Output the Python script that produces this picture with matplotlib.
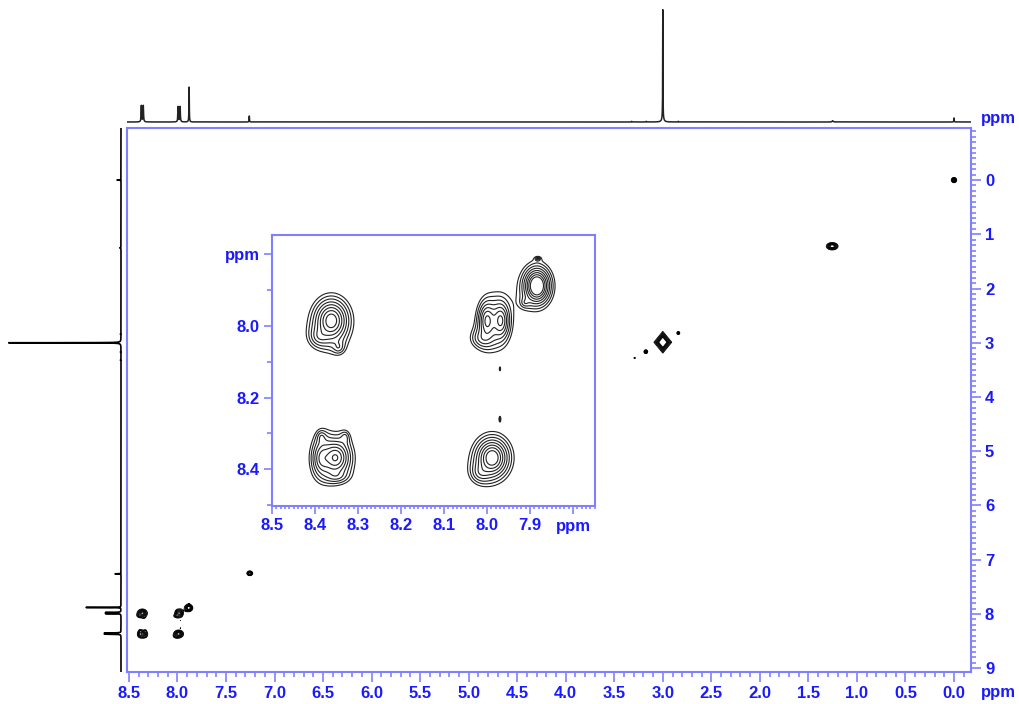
import numpy as np
import matplotlib.pyplot as plt
from matplotlib.ticker import MultipleLocator, FuncFormatter

plt.rcParams['font.family'] = ['Liberation Sans', 'DejaVu Sans']
plt.rcParams['font.weight'] = 'bold'

# 1D projection peaks (ppm, relative height, half width)
peak_ppm = [8.372, 8.352, 7.993, 7.973, 7.880, 7.260, 3.320, 3.170, 3.000, 3.000, 2.840, 1.250, 0.000]
peak_height = [0.150, 0.150, 0.140, 0.140, 0.320, 0.055, 0.006, 0.006, 1.000, 0.030, 0.006, 0.012, 0.037]
peak_width = [0.003, 0.003, 0.003, 0.003, 0.002, 0.002, 0.003, 0.003, 0.0015, 0.012, 0.003, 0.006, 0.002]

# 2D cross / diagonal peaks: F2 (horizontal), F1 (vertical), amplitude, widths, norm (2 round, 1 diamond)
cross_f2 = [8.362, 8.390, 8.345,                       # 8.36 / 7.98
            8.000, 7.968, 8.012,                       # 7.98 / 7.98
            7.884, 7.912,                              # 7.88 diagonal
            8.352, 8.385, 8.350, 8.385, 8.330,         # 8.36 diagonal
            7.988, 8.015,                              # 7.98 / 8.37
            7.970, 7.970, 7.882,                       # t1 specks
            7.255, 3.000, 3.175, 3.290, 2.840, 1.255, 0.000]
cross_f1 = [7.985, 8.030, 8.060,
            7.985, 7.985, 8.035,
            7.888, 7.935,
            8.368, 8.370, 8.420, 8.310, 8.310,
            8.368, 8.410,
            8.120, 8.260, 7.812,
            7.250, 2.990, 3.165, 3.280, 2.820, 1.220, 0.000]
cross_amp = [1.00, 0.20, 0.15,
             0.60, 0.60, 0.20,
             1.60, 0.13,
             0.80, 0.35, 0.15, 0.15, 0.13,
             1.10, 0.20,
             0.20, 0.22, 0.22,
             1.50, 4.00, 0.60, 0.20, 0.50, 1.50, 0.80]
cross_w2 = [0.030, 0.025, 0.015,
            0.018, 0.018, 0.030,
            0.020, 0.012,
            0.028, 0.020, 0.030, 0.012, 0.012,
            0.028, 0.025,
            0.0015, 0.002, 0.0055,
            0.015, 0.031, 0.014, 0.012, 0.012, 0.030, 0.018]
cross_w1 = [0.045, 0.030, 0.020,
            0.046, 0.046, 0.030,
            0.033, 0.015,
            0.040, 0.045, 0.020, 0.020, 0.020,
            0.040, 0.030,
            0.006, 0.008, 0.0045,
            0.022, 0.068, 0.026, 0.020, 0.022, 0.034, 0.032]
cross_norm = [2] * 19 + [1] + [2] * 5

levels = 0.13 * 1.3 ** np.arange(8)

frame = '#8080ff'
label_blue = '#1a1aff'


def spectrum(x):
    s = np.zeros_like(x)
    for p, h, w in zip(peak_ppm, peak_height, peak_width):
        s += h * w ** 2 / ((x - p) ** 2 + w ** 2)
    return s


def field(xs, ys):
    z = np.zeros((len(ys), len(xs)))
    for x0, y0, a, sx, sy, n in zip(cross_f2, cross_f1, cross_amp, cross_w2, cross_w1, cross_norm):
        i0, i1 = np.searchsorted(xs, [x0 - 15 * sx, x0 + 15 * sx])
        j0, j1 = np.searchsorted(ys, [y0 - 15 * sy, y0 + 15 * sy])
        if i1 <= i0 or j1 <= j0:
            continue
        u = np.abs(xs[i0:i1] - x0)[None, :] / sx
        v = np.abs(ys[j0:j1] - y0)[:, None] / sy
        q = (u ** n + v ** n) ** (2.0 / n)
        z[j0:j1, i0:i1] += a / (1 + q) ** 1.5
    return z


W, H = 1020, 704
fig = plt.figure(figsize=(10.2, 7.04), dpi=100)

xlim = (8.52, -0.175)
ylim = (9.07, -0.96)
main_rect = [127 / W, 1 - 672 / H, 844 / W, 544 / H]

ax = fig.add_axes(main_rect)
xs = np.arange(-0.2, 8.55, 0.003)
ys = np.arange(-1.0, 9.1, 0.005)
ax.contour(xs, ys, field(xs, ys), levels=levels, colors='black', linewidths=0.6)
ax.set_xlim(*xlim)
ax.set_ylim(*ylim)
ax.yaxis.tick_right()
ax.xaxis.set_major_locator(MultipleLocator(0.5))
ax.xaxis.set_minor_locator(MultipleLocator(0.1))
ax.yaxis.set_major_locator(MultipleLocator(1))
ax.yaxis.set_minor_locator(MultipleLocator(0.1))
ax.xaxis.set_major_formatter(FuncFormatter(lambda v, p: f'{v:.1f}'))
ax.yaxis.set_major_formatter(FuncFormatter(lambda v, p: f'{v:.0f}'))
ax.tick_params(which='both', direction='out', color=frame, width=1.2,
               labelcolor=label_blue, labelsize=12, left=False, top=False)
ax.tick_params(which='major', length=7, pad=3)
ax.tick_params(which='minor', length=3.5)
for sp in ax.spines.values():
    sp.set_color(frame)
    sp.set_linewidth(1.5)

# projections
ppm = np.arange(-1.0, 9.1, 0.0005)
spec = spectrum(ppm)
ax_top = fig.add_axes([127 / W, 1 - 124 / H, 844 / W, 118 / H])
ax_top.plot(ppm, spec, color='#222222', linewidth=1.1)
ax_top.set_xlim(*xlim)
ax_top.set_ylim(-2 / 109, 116 / 109)
ax_top.axis('off')

ax_left = fig.add_axes([5 / W, main_rect[1], 119 / W, main_rect[3]])
ax_left.plot(spec, ppm, color='black', linewidth=1.2)
ax_left.set_ylim(*ylim)
ax_left.set_xlim(116 / 109, -3 / 109)
ax_left.axis('off')

fig.text(998 / W, 1 - 692 / H, 'ppm', color=label_blue, fontsize=12,
         ha='center', va='center')
fig.text(998 / W, 1 - 118 / H, 'ppm', color=label_blue, fontsize=12,
         ha='center', va='center')

# inset zoom on aromatic region
axi = fig.add_axes([272 / W, 1 - 506 / H, 323 / W, 271 / H])
axi.set_facecolor('white')
xi = np.arange(7.74, 8.51, 0.001)
yi = np.arange(7.74, 8.51, 0.001)
axi.contour(xi, yi, field(xi, yi), levels=levels, colors='#222222', linewidths=0.8)
axi.set_xlim(8.5, 7.749)
axi.set_ylim(8.503, 7.746)
axi.xaxis.set_major_locator(MultipleLocator(0.1))
axi.xaxis.set_minor_locator(MultipleLocator(0.01))
axi.yaxis.set_major_locator(MultipleLocator(0.2))
axi.yaxis.set_minor_locator(MultipleLocator(0.1))


def inset_fmt(v, p):
    if abs(v - 7.8) < 1e-6:
        return 'ppm'
    return f'{v:.1f}'


axi.xaxis.set_major_formatter(FuncFormatter(inset_fmt))
axi.yaxis.set_major_formatter(FuncFormatter(inset_fmt))
axi.tick_params(which='both', direction='out', color=frame, width=1.2,
                labelcolor=label_blue, labelsize=12)
axi.tick_params(which='major', length=6, pad=3)
axi.tick_params(axis='x', which='minor', length=2.5)
axi.tick_params(axis='y', which='minor', length=3.5)
for sp in axi.spines.values():
    sp.set_color(frame)
    sp.set_linewidth(1.5)

fig.savefig('out.png', dpi=100)
